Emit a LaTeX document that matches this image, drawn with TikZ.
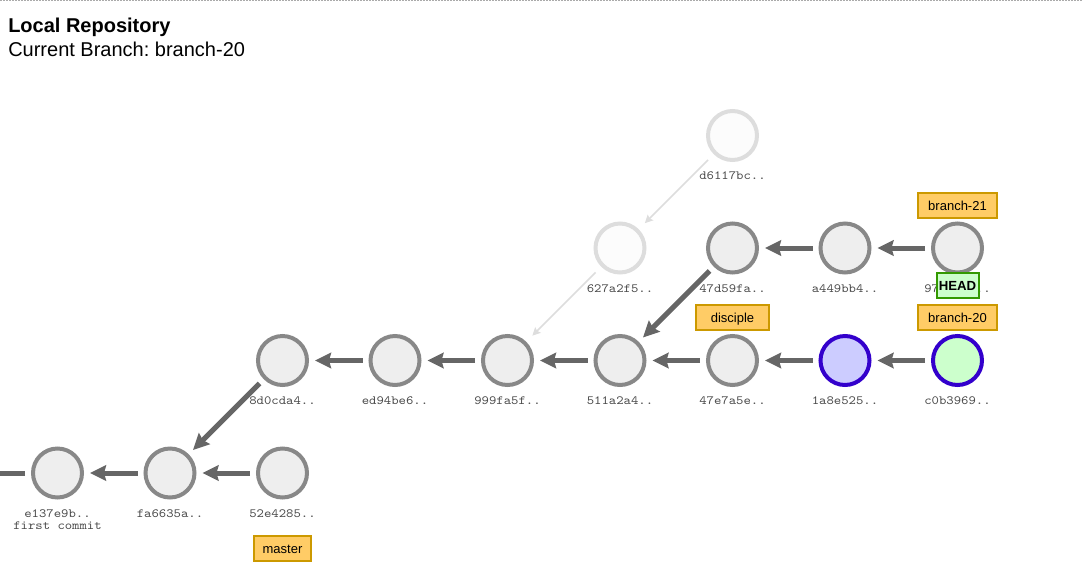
\documentclass[tikz,border=0pt]{standalone}
\usepackage{fontspec}
\setmainfont{Liberation Sans}
\newfontfamily\hashfont{lmmono10-regular}[Extension=.otf, FakeStretch=1.12]
\usetikzlibrary{arrows.meta}

\definecolor{commitfill}{HTML}{EEEEEE}
\definecolor{commitline}{HTML}{888888}
\definecolor{fadefill}{HTML}{FCFCFC}
\definecolor{fadeline}{HTML}{DDDDDD}
\definecolor{edgecol}{HTML}{666666}
\definecolor{hashcol}{HTML}{4A4A4A}
\definecolor{curline}{HTML}{3300CC}
\definecolor{curfill}{HTML}{CCFFCC}
\definecolor{workfill}{HTML}{CCCCFF}
\definecolor{tagfill}{HTML}{FFCC66}
\definecolor{tagline}{HTML}{CC9900}
\definecolor{headline}{HTML}{339900}
\definecolor{headfill}{HTML}{CCFFCC}
\definecolor{rulecol}{HTML}{AAAAAA}

\begin{document}
\frenchspacing
\begin{tikzpicture}[x=0.75pt,y=-0.75pt,
  commit/.style={circle, draw=commitline, fill=commitfill, line width=3pt,
    minimum size=36.75pt, inner sep=0pt},
  faded/.style={commit, draw=fadeline, fill=fadefill},
  workcommit/.style={commit, draw=curline, fill=workfill},
  curcommit/.style={commit, draw=curline, fill=curfill},
  hashlabel/.style={font=\hashfont\fontsize{9.4pt}{10pt}\selectfont, text=hashcol,
    anchor=base, inner sep=0pt},
  edge/.style={draw=edgecol, line width=3.75pt,
    -{Stealth[length=12pt,width=11.5pt,inset=1.5pt]},
    shorten >=4.5pt, shorten <=4.5pt},
  fadededge/.style={draw=fadeline, line width=1.1pt,
    -{Stealth[length=6pt,width=6pt,inset=1pt]},
    shorten >=6.5pt, shorten <=6pt},
  branchtag/.style={draw=tagline, fill=tagfill, line width=1.5pt,
    minimum height=18.75pt, inner xsep=0pt, inner ysep=0pt,
    text height=7.5pt, text depth=0pt,
    font=\fontsize{9.75pt}{11pt}\selectfont, text=black},
  headtag/.style={draw=headline, fill=headfill, line width=1.5pt,
    minimum width=31.5pt, minimum height=18.75pt, inner sep=0pt,
    text height=8pt, text depth=0pt,
    font=\bfseries\fontsize{9.9pt}{11pt}\selectfont, text=black}
]
\useasboundingbox (0,0) rectangle (1082,583);

% dotted rule along the top edge
\coordinate (ruleL) at (0,0.75);
\coordinate (ruleR) at (1082,0.75);
\draw[rulecol, line width=0.9pt, dash pattern=on 1.5pt off 0.75pt] (ruleL) -- (ruleR);

% heading
\node[anchor=base west, inner sep=0pt, font=\bfseries\fontsize{15pt}{18pt}\selectfont] (title) at (8,32) {Local Repository};
\node[anchor=base west, inner sep=0pt, font=\fontsize{15pt}{18pt}\selectfont] (branchinfo) at (8,56.5) {Current Branch: branch-20};

% commits
\node[commit] (c1)  at (57.5,473) {};
\node[commit] (c2)  at (170,473) {};
\node[commit] (c3)  at (282.5,473) {};
\node[commit] (c4)  at (282.5,360.5) {};
\node[commit] (c5)  at (395,360.5) {};
\node[commit] (c6)  at (507.5,360.5) {};
\node[commit] (c7)  at (620,360.5) {};
\node[commit] (c8)  at (732.5,360.5) {};
\node[workcommit] (c9)  at (845,360.5) {};
\node[curcommit] (c10) at (957.5,360.5) {};
\node[faded]  (c11) at (620,248) {};
\node[commit] (c12) at (732.5,248) {};
\node[commit] (c13) at (845,248) {};
\node[commit] (c14) at (957.5,248) {};
\node[faded]  (c15) at (732.5,135.5) {};
\coordinate (stub) at (0,473);

% parent links
\draw[edge] (c3) -- (c2);
\draw[edge] (c2) -- (c1);
\draw[draw=edgecol, line width=3.75pt, shorten <=4.5pt] (c1.west) -- (stub);
\draw[edge] (c4) -- (c2);
\draw[edge] (c5) -- (c4);
\draw[edge] (c6) -- (c5);
\draw[edge] (c7) -- (c6);
\draw[edge] (c8) -- (c7);
\draw[edge] (c9) -- (c8);
\draw[edge] (c10) -- (c9);
\draw[edge] (c12) -- (c7);
\draw[edge] (c13) -- (c12);
\draw[edge] (c14) -- (c13);
\draw[fadededge] (c11) -- (c6);
\draw[fadededge] (c15) -- (c11);

% commit ids
\node[hashlabel] (h1)  at (57.5,517) {e137e9b..};
\node[hashlabel] (m1)  at (57.5,529) {first commit};
\node[hashlabel] (h2)  at (170,517) {fa6635a..};
\node[hashlabel] (h3)  at (282.5,517) {52e4285..};
\node[hashlabel] (h4)  at (282.5,404.5) {8d0cda4..};
\node[hashlabel] (h5)  at (395,404.5) {ed94be6..};
\node[hashlabel] (h6)  at (507.5,404.5) {999fa5f..};
\node[hashlabel] (h7)  at (620,404.5) {511a2a4..};
\node[hashlabel] (h8)  at (732.5,404.5) {47e7a5e..};
\node[hashlabel] (h9)  at (845,404.5) {1a8e525..};
\node[hashlabel] (h10) at (957.5,404.5) {c0b3969..};
\node[hashlabel] (h11) at (620,292) {627a2f5..};
\node[hashlabel] (h12) at (732.5,292) {47d59fa..};
\node[hashlabel] (h13) at (845,292) {a449bb4..};
\node[hashlabel] (h14) at (957.5,292) {97e0a1c..};
\node[hashlabel] (h15) at (732.5,179.5) {d6117bc..};

% branch tags
\node[branchtag, minimum width=59.25pt] (b21) at (957.5,205) {branch-21};
\node[branchtag, minimum width=59.25pt] (b20) at (957.5,317.5) {branch-20};
\node[branchtag, minimum width=54.75pt] (bdis) at (732.5,317.5) {disciple};
\node[branchtag, minimum width=42.75pt] (bmas) at (282.5,548.5) {master};
\node[headtag] (head) at (957.5,285.5) {HEAD};
\end{tikzpicture}
\end{document}
